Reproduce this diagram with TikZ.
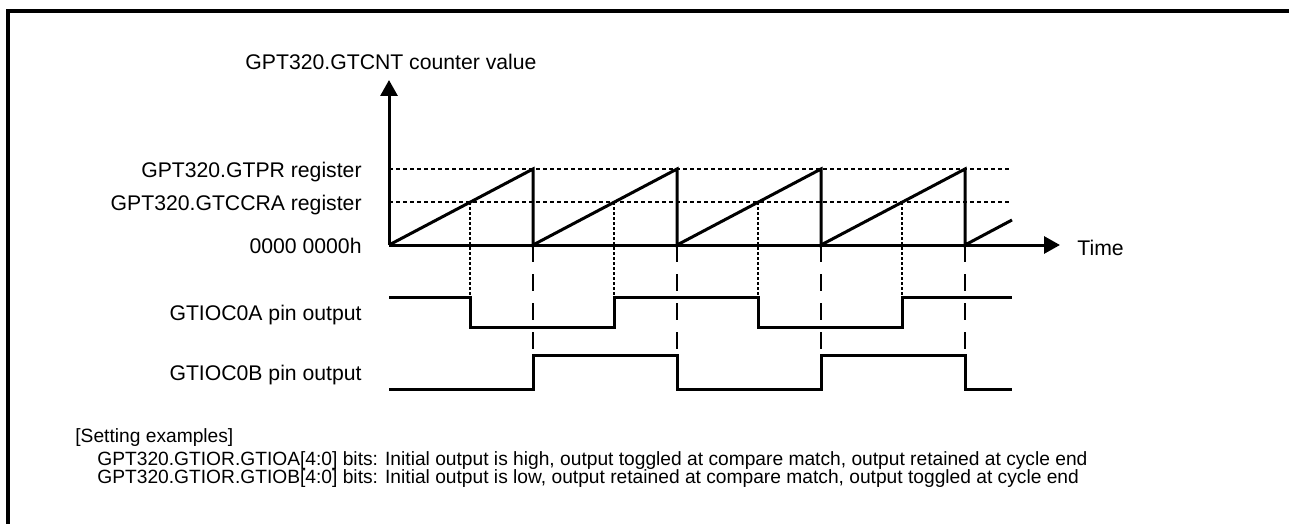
\documentclass[tikz,border=0pt]{standalone}
\usepackage{fontspec}
\setmainfont{Liberation Sans}
\usetikzlibrary{arrows.meta}

\begin{document}
\begin{tikzpicture}[x=0.5pt, y=-0.5pt,
  every node/.style={font=\fontsize{10.6}{13}\selectfont, inner sep=0pt},
  note/.style={font=\fontsize{9.6}{9}\selectfont, align=left},
  wave/.style={line width=1.5pt, line join=miter},
  levelline/.style={line width=1.2pt, dash pattern=on 2pt off 1.5pt},
  matchline/.style={line width=1.2pt, dash pattern=on 1.5pt off 1pt},
  endline/.style={line width=1.2pt, dash pattern=on 8.5pt off 6pt},
  axisarrow/.style={line width=1.5pt, -{Triangle[length=8pt,width=8.5pt]}}]
\useasboundingbox (0,0) rectangle (1289,524);
\draw[line width=1.6pt] (8,524) -- (8,11) -- (1289,11);

% axes
\coordinate (o) at (389,245);
\coordinate (ytop) at (389,80);
\coordinate (xend) at (1060,245);
\draw[axisarrow] (o) -- (ytop);
\draw[axisarrow] (o) -- (xend);
\node[anchor=base] (ylab) at (391,70) {GPT320.GTCNT counter value};
\node[anchor=base west] (tlab) at (1077,255) {Time};

% levels
\node[anchor=base east] (prlab) at (362,177) {GPT320.GTPR register};
\node[anchor=base east] (cralab) at (362,210) {GPT320.GTCCRA register};
\node[anchor=base east] (zlab) at (362,253) {0000 0000h};
\node[anchor=base east] (alab) at (362,320) {GTIOC0A pin output};
\node[anchor=base east] (blab) at (362,380) {GTIOC0B pin output};
\draw[levelline] (389,169) -- (1010,169);
\draw[levelline] (389,202) -- (1010,202);

% counter
\draw[wave] (o) -- (533,169) -- (533,245) -- (677,169) -- (677,245)
  -- (821,169) -- (821,245) -- (965,169) -- (965,245) -- (1012,220);

% compare match and cycle end
\foreach \x in {470,614,758,902}
  \draw[matchline] (\x,202) -- (\x,297);
\foreach \x in {533,677,821,965}
  \draw[endline] (\x,245) -- (\x,389);

% outputs
\draw[wave] (389,297) -- (470,297) -- (470,327) -- (614,327) -- (614,297)
  -- (758,297) -- (758,327) -- (902,327) -- (902,297) -- (1012,297);
\draw[wave] (389,389) -- (533,389) -- (533,355) -- (677,355) -- (677,389)
  -- (821,389) -- (821,355) -- (965,355) -- (965,389) -- (1012,389);

% notes
\node[note, anchor=base west] (note0) at (75,442) {[Setting examples]};
\node[note, anchor=base west] (note1) at (97,483) {GPT320.GTIOR.GTIOA[4:0] bits: Initial output is high, output toggled at compare match, output retained at cycle end\\
GPT320.GTIOR.GTIOB[4:0] bits: Initial output is low, output retained at compare match, output toggled at cycle end};
\end{tikzpicture}
\end{document}
